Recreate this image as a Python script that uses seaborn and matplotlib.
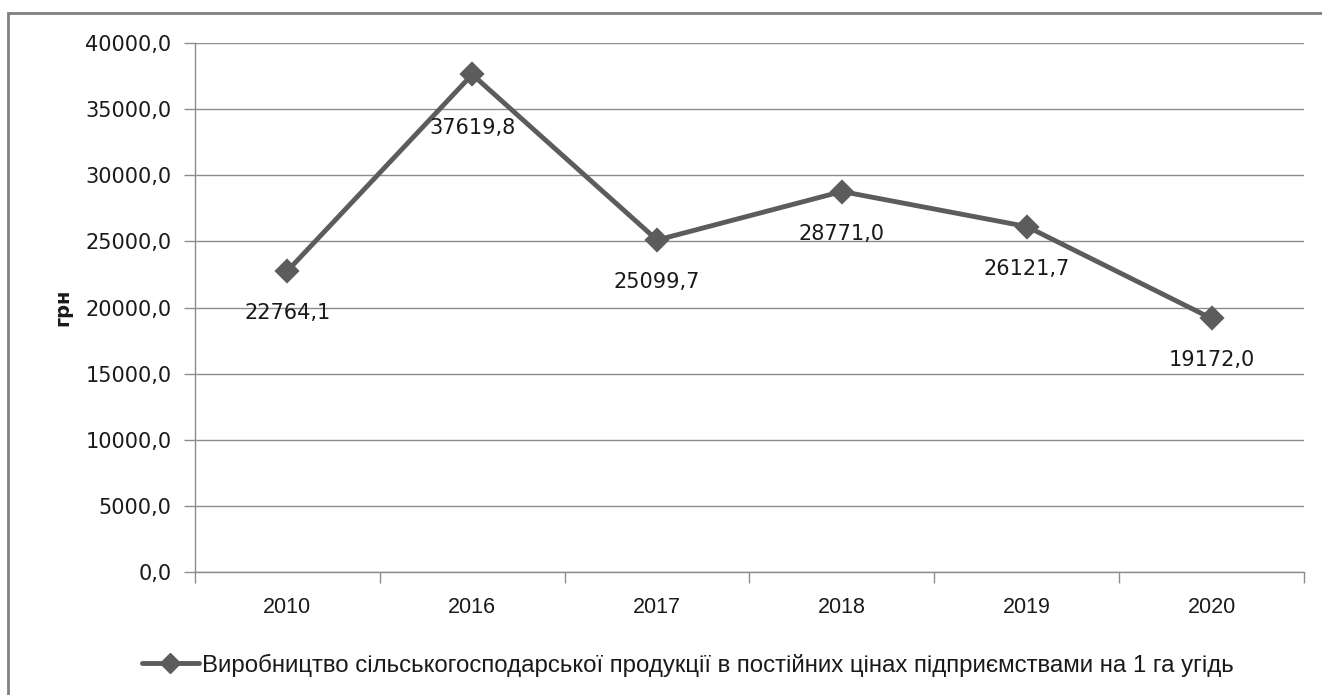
import matplotlib
matplotlib.use("Agg")
import matplotlib.pyplot as plt
import seaborn as sns
import pandas as pd
from matplotlib.patches import Rectangle
from matplotlib.lines import Line2D

years = ["2010", "2016", "2017", "2018", "2019", "2020"]
values = [22764.1, 37619.8, 25099.7, 28771.0, 26121.7, 19172.0]
series_name = "Виробництво сільськогосподарської продукції в постійних цінах підприємствами на 1 га угідь"
y_label = "грн"

sns.set_theme(style="white")
plt.rcParams['font.family'] = ['DejaVu Sans']
sans = ['Liberation Sans', 'DejaVu Sans']

line_color = "#5c5c5c"
grid_color = "#8c8c8c"
text_color = "#1a1a1a"

df = pd.DataFrame({"year": years, "value": values})

fig = plt.figure(figsize=(13.22, 6.95), dpi=100)
ax = fig.add_axes([195 / 1322, 1 - 572 / 695, (1304 - 195) / 1322, (572 - 43) / 695])

sns.pointplot(data=df, x="year", y="value", color=line_color, markers="D",
              linewidth=3.5, markersize=10, ax=ax)

ax.set_xlim(-0.5, len(years) - 0.5)
ax.set_ylim(0, 40000)
ax.set_yticks(range(0, 40001, 5000))
ax.set_yticklabels([f"{v},0" for v in range(0, 40001, 5000)], fontsize=15, color=text_color)
ax.set_xticks(range(len(years)))
ax.set_xticklabels(years, fontsize=15.5, family=sans, color=text_color)
ax.set_xticks([i + 0.5 for i in range(-1, len(years))], minor=True)
ax.tick_params(axis="x", which="major", length=0, pad=18)
ax.tick_params(axis="x", which="minor", length=8, color=grid_color, width=1, direction="out", bottom=True)
ax.tick_params(axis="y", length=8, color=grid_color, width=1, direction="out", left=True, pad=9)
ax.yaxis.grid(True, color=grid_color, linewidth=1)
ax.set_axisbelow(True)
for s in ["top", "right"]:
    ax.spines[s].set_visible(False)
for s in ["left", "bottom"]:
    ax.spines[s].set_color(grid_color)
    ax.spines[s].set_linewidth(1)
ax.set_xlabel("")
ax.set_ylabel(y_label, fontsize=14, fontweight="bold", labelpad=9, color=text_color)

# data labels below the points (the 2016 one sits a bit lower, like the original)
for i, v in enumerate(values):
    dy = -54 if years[i] == "2016" else -42
    ax.annotate(f"{v:.1f}".replace(".", ","), (i, v), xytext=(0, dy),
                textcoords="offset pixels", ha="center", va="center",
                fontsize=15, color=text_color)

# legend at the bottom
handle = Line2D([], [], color=line_color, marker="D", linewidth=3.5, markersize=10)
fig.legend([handle], [series_name], loc="center", bbox_to_anchor=(0.52, 1 - 665 / 695),
           frameon=False, prop={"family": sans, "size": 17.3}, handlelength=2.4,
           handletextpad=0.1, labelcolor=text_color)

# outer chart border (cropped on right and bottom)
fig.patches.append(Rectangle((8 / 1322, -0.1), 1.2, 1 - 13 / 695 + 0.1,
                             transform=fig.transFigure, fill=False,
                             edgecolor="#808080", linewidth=2))

fig.savefig("out.png", dpi=100)
